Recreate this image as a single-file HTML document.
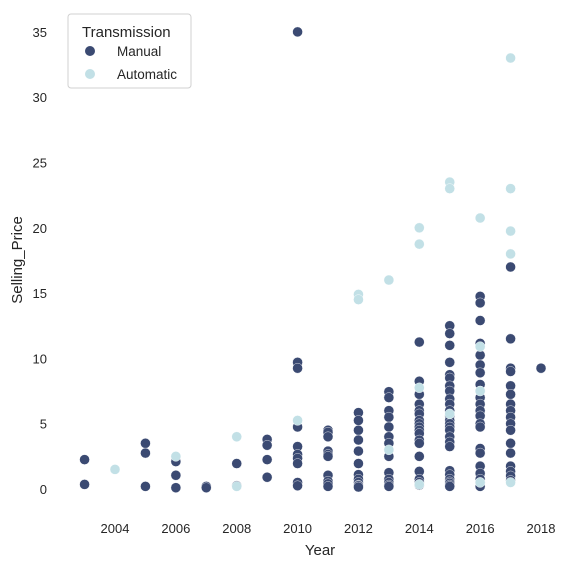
<!DOCTYPE html>
<html><head><meta charset="utf-8"><style>
body{margin:0;background:#fff;font-family:"Liberation Sans",sans-serif}
svg text{font-family:"Liberation Sans",sans-serif;fill:#262626}
</style></head><body>
<svg id="chart" width="574" height="568">
<g id="ticks"></g><g id="pts"></g>
<text x="320" y="555" font-size="15" text-anchor="middle">Year</text>
<text transform="translate(22,260) rotate(-90)" font-size="15" text-anchor="middle">Selling_Price</text>
<g>
<rect x="68" y="14" width="123" height="74" rx="3" fill="#fff" stroke="#d0d0d0"/>
<text x="82" y="37" font-size="15">Transmission</text>
<g><circle cx="90" cy="51" r="5" fill="#3b4a72"/><text x="117" y="56" font-size="13.5">Manual</text></g>
<g><circle cx="90" cy="74" r="5" fill="#c2e0e6"/><text x="117" y="79" font-size="13.5">Automatic</text></g>
</g>
</svg>
<script>
const xTicks=[2004,2006,2008,2010,2012,2014,2016,2018];
const yTicks=[0,5,10,15,20,25,30,35];
const manualYears=[2003,2003,2005,2005,2005,2006,2006,2006,2007,2007,2008,2008,2009,2009,2009,2009,
2010,2010,2010,2010,2010,2010,2010,2010,2010,2010,
2011,2011,2011,2011,2011,2011,2011,2011,2011,2011,
2012,2012,2012,2012,2012,2012,2012,2012,2012,2012,2012,2012,
2013,2013,2013,2013,2013,2013,2013,2013,2013,2013,2013,2013,2013,
2014,2014,2014,2014,2014,2014,2014,2014,2014,2014,2014,2014,2014,2014,2014,2014,2014,2014,
2015,2015,2015,2015,2015,2015,2015,2015,2015,2015,2015,2015,2015,2015,2015,2015,2015,2015,2015,2015,2015,2015,2015,2015,2015,2015,
2016,2016,2016,2016,2016,2016,2016,2016,2016,2016,2016,2016,2016,2016,2016,2016,2016,2016,2016,2016,2016,2016,
2017,2017,2017,2017,2017,2017,2017,2017,2017,2017,2017,2017,2017,2017,2017,2017,2017,
2018];
const manualPrices=[2.25,0.35,3.5,2.75,0.2,2.1,1.05,0.1,0.2,0.1,1.95,0.25,3.8,3.35,2.25,0.9,
35,9.7,9.25,4.75,3.25,2.65,2.35,1.95,0.5,0.25,
4.5,4.35,4.0,2.9,2.65,2.5,1.05,0.6,0.4,0.2,
5.85,5.25,4.5,3.75,2.9,1.95,1.1,0.75,0.5,0.3,0.25,0.15,
7.45,7.0,6.0,5.5,4.75,4.0,3.5,2.5,1.25,0.75,0.5,0.3,0.2,
11.25,8.25,7.25,6.5,6.0,5.75,5.25,5.0,4.75,4.5,4.25,3.75,3.5,2.5,1.35,0.75,0.5,0.3,
12.5,11.9,11.0,9.7,8.75,8.5,7.9,7.5,6.9,6.5,6.0,5.6,5.25,5.0,4.75,4.5,4.0,3.6,3.25,1.4,1.1,0.75,0.55,0.45,0.3,0.2,
14.75,14.25,12.9,11.15,10.25,9.5,8.9,8.0,7.5,7.0,6.5,6.0,5.6,5.0,4.75,3.1,2.75,1.75,1.2,0.75,0.5,0.2,
17.0,11.5,9.25,9.0,7.9,7.25,6.5,6.0,5.5,5.0,4.5,3.5,2.75,1.75,1.35,1.0,0.65,
9.25];
const autoYears=[2004,2006,2008,2008,2010,2012,2012,2013,2013,2014,2014,2014,2014,2015,2015,2015,2016,2016,2016,2016,2017,2017,2017,2017,2017];
const autoPrices=[1.5,2.5,4.0,0.2,5.25,14.9,14.5,16.0,3.0,20.0,18.75,7.75,0.35,23.5,23.0,5.75,20.75,10.9,7.5,0.5,33.0,23.0,19.75,18.0,0.5];
const xs=y=>115+(y-2004)*30.43;
const ys=v=>489-v*13.06;
const NS='http://www.w3.org/2000/svg';
const tg=document.getElementById('ticks'),pg=document.getElementById('pts');
xTicks.forEach(t=>{const e=document.createElementNS(NS,'text');
e.setAttribute('x',xs(t));e.setAttribute('y',533);e.setAttribute('font-size','13');e.setAttribute('text-anchor','middle');e.textContent=t;


tg.appendChild(e);});
yTicks.forEach(t=>{const e=document.createElementNS(NS,'text');
e.setAttribute('x',47);e.setAttribute('y',ys(t)+5);e.setAttribute('font-size','13');e.setAttribute('text-anchor','end');e.textContent=t;


tg.appendChild(e);});
function draw(yrs,pr,col,name){yrs.forEach((y,i)=>{const c=document.createElementNS(NS,'circle');
c.setAttribute('cx',xs(y));c.setAttribute('cy',ys(pr[i]));c.setAttribute('r',5);c.setAttribute('fill',col);c.setAttribute('stroke','#fff');c.setAttribute('stroke-width','0.4');


pg.appendChild(c);});}
draw(manualYears,manualPrices,'#3b4a72','point-manual');
draw(autoYears,autoPrices,'#c2e0e6','point-automatic');
</script>
</body></html>
